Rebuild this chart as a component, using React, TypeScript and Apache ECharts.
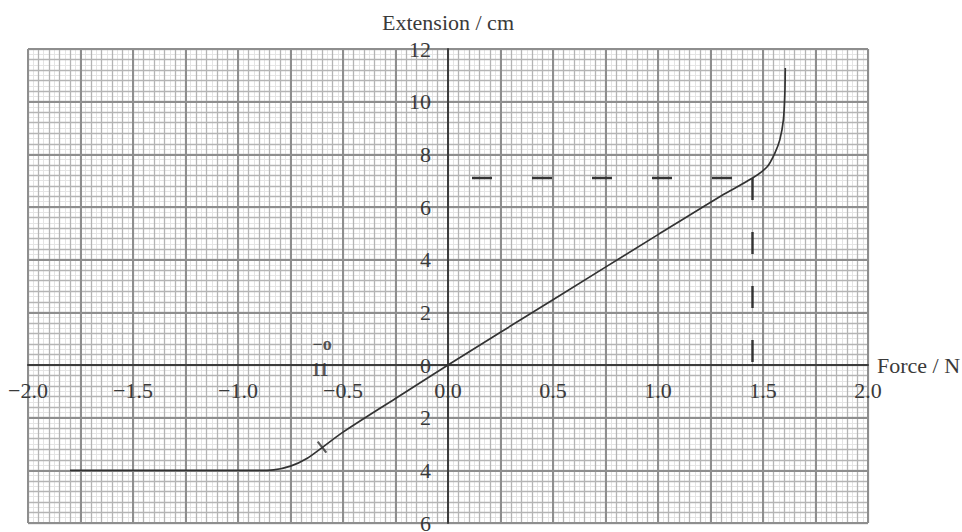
import React, { useEffect, useRef } from "react";
import * as echarts from "echarts";

// Measured curve: force (N) vs extension (cm)
const forceN = [-1.8, -1.4, -1.0, -0.91, -0.83, -0.75, -0.67, -0.59, -0.5, -0.25, 0, 0.5, 1.0, 1.3, 1.45, 1.52, 1.556, 1.58, 1.597, 1.604, 1.606];
const extensionCm = [-4, -4, -4, -4, -3.98, -3.84, -3.54, -3.08, -2.55, -1.27, 0, 2.48, 4.95, 6.42, 7.1, 7.53, 8.04, 8.55, 9.3, 10.3, 11.28];

// Read-off construction (dashed lines)
const readForce = 1.45;
const readExtension = 7.1;

// Plotted cross mark on the curve
const crossMark = [-0.6, -3.12];

// Handwritten notes near the axis
const noteTexts = ["\u2212o", "11"];
const notePositions = [
  [-0.6, 0.8],
  [-0.61, -0.18],
];

const xRange = { min: -2, max: 2 };
const yRange = { min: -6, max: 12 };

const FONT = "Liberation Serif";
const TEXT = "#3a3a3a";
const FS = 22;

const W = 962;
const H = 532;
const PLOT = { left: 28, right: 94, top: 49, bottom: 9 };

function paperAxis(dim: "x" | "y", interval: number, color: string, width: number, z: number) {
  const r = dim === "x" ? xRange : yRange;
  return {
    type: "value",
    gridIndex: 1,
    min: r.min,
    max: r.max,
    interval,
    z,
    axisLine: { show: false, onZero: false },
    axisTick: { show: false },
    axisLabel: { show: false },
    splitLine: { show: true, lineStyle: { color, width } },
  };
}

export default function App() {
  const ref = useRef<HTMLDivElement>(null);

  useEffect(() => {
    if (!ref.current) return;
    const chart = echarts.init(ref.current, null, { renderer: "svg" });

    const curve = forceN.map((f, i) => [f, extensionCm[i]]);
    const rect = { ...PLOT, containLabel: false, outerBoundsMode: "none" };

    // shift the labelled axes so they cross at the origin
    const plotW = W - PLOT.left - PLOT.right;
    const plotH = H - PLOT.top - PLOT.bottom;
    const xAxisOffset = -plotH * ((0 - yRange.min) / (yRange.max - yRange.min));
    const yAxisOffset = -plotW * ((0 - xRange.min) / (xRange.max - xRange.min));

    const option = {
      animation: false,
      backgroundColor: "#ffffff",
      textStyle: { fontFamily: FONT },
      grid: [rect, { ...rect }],
      xAxis: [
        {
          type: "value",
          gridIndex: 0,
          position: "bottom",
          offset: xAxisOffset,
          min: xRange.min,
          max: xRange.max,
          interval: 0.5,
          z: 10,
          name: "Force / N",
          nameLocation: "end",
          nameGap: 9,
          nameTextStyle: { fontFamily: FONT, fontSize: FS, color: TEXT },
          axisLine: { show: true, onZero: false, lineStyle: { color: "#3c3c3c", width: 2 } },
          axisTick: { show: false },
          axisLabel: {
            show: true,
            margin: 14,
            fontFamily: FONT,
            fontSize: FS,
            color: TEXT,
            formatter: (v: number) => (v < 0 ? "\u2212" : "") + Math.abs(v).toFixed(1),
          },
          splitLine: { show: false },
        },
        paperAxis("x", 0.025, "#e4e4e4", 1, 1),
        paperAxis("x", 0.05, "#b4b4b4", 1.3, 2),
        paperAxis("x", 0.25, "#8e8e8e", 2, 3),
      ],
      yAxis: [
        {
          type: "value",
          gridIndex: 0,
          position: "left",
          offset: yAxisOffset,
          min: yRange.min,
          max: yRange.max,
          interval: 2,
          z: 10,
          name: "Extension / cm",
          nameLocation: "end",
          nameGap: 16,
          nameTextStyle: { fontFamily: FONT, fontSize: FS, color: TEXT, align: "center" },
          axisLine: { show: true, onZero: false, lineStyle: { color: "#3c3c3c", width: 2 } },
          axisTick: { show: false },
          axisLabel: {
            show: true,
            margin: 17,
            fontFamily: FONT,
            fontSize: FS,
            color: TEXT,
            formatter: (v: number) => String(Math.abs(v)),
          },
          splitLine: { show: false },
        },
        paperAxis("y", 0.2, "#e4e4e4", 1, 1),
        paperAxis("y", 0.4, "#b4b4b4", 1.3, 2),
        paperAxis("y", 2, "#8e8e8e", 2, 3),
      ],
      series: [
        {
          type: "line",
          data: curve,
          xAxisIndex: 0,
          yAxisIndex: 0,
          showSymbol: false,
          symbol: "none",
          smooth: 0.3,
          z: 20,
          lineStyle: { color: "#333333", width: 1.7 },
        },
        {
          type: "line",
          xAxisIndex: 0,
          yAxisIndex: 0,
          data: [
            [0, readExtension],
            [readForce, readExtension],
          ],
          showSymbol: false,
          symbol: "none",
          z: 19,
          lineStyle: { color: "#333333", width: 2.6, type: [20, 40], dashOffset: 36 },
        },
        {
          type: "line",
          xAxisIndex: 0,
          yAxisIndex: 0,
          data: [
            [readForce, readExtension],
            [readForce, 0],
          ],
          showSymbol: false,
          symbol: "none",
          z: 19,
          lineStyle: { color: "#333333", width: 2.4, type: [22, 32] },
        },
        {
          type: "scatter",
          xAxisIndex: 0,
          yAxisIndex: 0,
          data: [crossMark],
          symbol: "rect",
          symbolSize: [2.2, 14],
          symbolRotate: 38,
          z: 21,
          itemStyle: { color: "#333333" },
        },
        {
          type: "scatter",
          xAxisIndex: 0,
          yAxisIndex: 0,
          data: notePositions.map((p, i) => ({ value: p, name: noteTexts[i] })),
          symbolSize: 0,
          z: 21,
          label: {
            show: true,
            position: "inside",
            formatter: (p: any) => p.name,
            fontFamily: FONT,
            fontSize: 18,
            fontWeight: "bold",
            color: "#2a2a2a",
          },
        },
      ],
    };

    chart.setOption(option as any);
    return () => {
      chart.dispose();
    };
  }, []);

  return (
    <div
      ref={ref}
      style={{ position: "fixed", left: 0, top: 0, width: W, height: H, background: "#fff" }}
    />
  );
}
